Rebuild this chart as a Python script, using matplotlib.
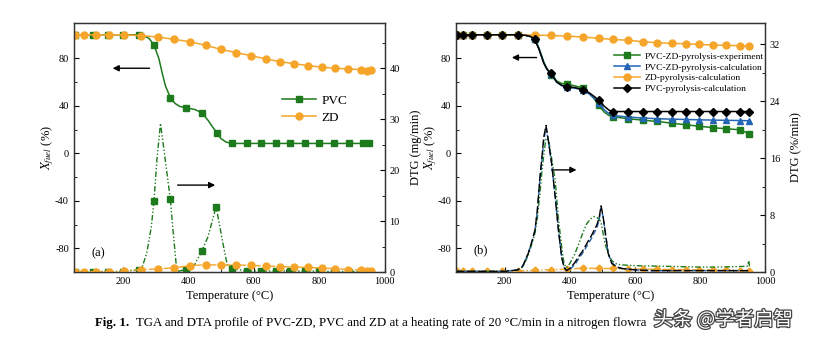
import matplotlib.pyplot as plt
from matplotlib.ticker import MultipleLocator
import matplotlib.patheffects as pe

plt.rcParams['font.family'] = ['Liberation Serif', 'DejaVu Serif']
plt.rcParams['mathtext.fontset'] = 'stix'
plt.rcParams['axes.unicode_minus'] = False

GREEN = '#1d7a1d'
ORANGE = '#f5a52a'
BLUE = '#2565b5'

# ---- panel (a) ----
pvc_tga_T = [55, 110, 155, 200, 248, 265, 280, 295, 310, 320, 330, 345, 360, 375, 394,
             420, 442, 460, 475, 487, 500, 515, 533, 578, 623, 667, 712, 757, 800,
             845, 890, 935, 952]
pvc_tga = [100, 100, 100, 100, 100, 99, 97, 91.3, 80, 68, 57, 47.1, 42, 39.5, 38.4,
           37, 34.2, 28, 22, 17.4, 12.5, 9.6, 8.4, 8.4, 8.4, 8.4, 8.4, 8.4, 8.4,
           8.4, 8.4, 8.4, 8.4]
pvc_tga_marks = [0, 1, 2, 3, 4, 7, 11, 14, 16, 19, 22, 23, 24, 25, 26, 27, 28, 29, 30, 31, 32]

pvc_dtg_T = [55, 110, 155, 200, 249, 256, 273, 287, 295, 304, 315, 327, 345, 355, 365,
             394, 419, 441, 460, 485, 506, 519, 533, 578, 623, 667, 712, 757, 800,
             845, 890, 935, 952]
pvc_dtg = [0.1, 0.1, 0.1, 0.1, 0.5, 0.4, 3.7, 8.9, 13.9, 22, 29.2, 23.3, 14.3, 7, 0.1,
           0.5, 1.4, 4.1, 6.9, 12.8, 5.6, 1.4, 0.7, 0.2, 0.2, 0.2, 0.2, 0.2, 0.2,
           0.15, 0.1, 0.1, 0.1]
pvc_dtg_marks = [0, 1, 2, 3, 4, 8, 12, 15, 17, 19, 22, 23, 24, 25, 26, 27, 28, 29, 30, 31, 32]

zd_T = [55, 80, 118, 159, 204, 255, 308, 357, 406, 453, 500, 546, 592, 638, 681,
        724, 767, 808, 849, 889, 928, 947, 957]
zd_tga = [100, 100, 100, 100, 100, 99.3, 98.1, 96.1, 94.1, 91.1, 87.7, 84.9, 82.4,
          79.6, 77.3, 75.6, 74, 72.6, 71.8, 71.2, 70.6, 69.5, 70.3]
zd_dtg = [0.05, 0.05, 0.1, 0.1, 0.2, 0.5, 0.6, 0.85, 1.25, 1.45, 1.35, 1.4, 1.3,
          1.2, 1.05, 1.0, 0.9, 0.8, 0.65, 0.5, 0.4, 0.3, 0.3]

# ---- panel (b) ----
mix_T = [52, 73, 98, 145, 191, 242, 265, 280, 292, 305, 320, 330, 342, 360, 375, 391,
         415, 440, 460, 475, 489, 505, 520, 534, 580, 626, 669, 713, 757, 798, 839,
         880, 923, 952]
mix_marks = [0, 1, 2, 3, 4, 5, 8, 12, 15, 17, 20, 23, 24, 25, 26, 27, 28, 29, 30, 31, 32, 33]
exp_tga = [100, 100, 100, 100, 100, 100, 99.5, 98.5, 96.5, 89, 77, 71, 66.5, 61, 59,
           58.3, 57, 55, 50.5, 46, 40.5, 35, 32, 30.8, 29.2, 28, 26.9, 25.5, 24.1,
           22.9, 21.7, 20.8, 19.9, 16.5]
calc_tga = [100, 100, 100, 100, 100, 100, 99.5, 98.5, 96.3, 88.5, 76.5, 71, 67, 60,
            57, 56, 55, 53.5, 50, 46.5, 42.5, 37, 33.5, 32, 30.6, 29.8, 29.2, 28.9,
            28.6, 28.3, 28.1, 27.9, 27.7, 27.5]
pvc_calc_tga = [100, 100, 100, 100, 100, 100, 99.5, 98.5, 96.1, 88, 76, 71, 67.5, 60,
                57.5, 56.3, 55.5, 53.8, 51, 48, 44.9, 40, 36.5, 35.3, 35.3, 35.3, 35.3,
                35.3, 35.3, 35.3, 35.3, 35.3, 35.3, 35.3]

zd_calc_T = [52, 73, 98, 145, 191, 242, 292, 342, 391, 440, 489, 534, 580, 626, 669,
             713, 757, 798, 839, 880, 923, 952]
zd_calc_tga = [100, 100, 100, 100, 100, 100, 99.7, 99.4, 98.9, 98.1, 97.0, 96.1, 95.3,
               94.1, 93.3, 92.8, 92.4, 91.9, 91.3, 91.1, 90.8, 90.6]
zd_calc_dtg = [0.1, 0.1, 0.1, 0.1, 0.1, 0.15, 0.25, 0.35, 0.4, 0.55, 0.5, 0.5, 0.45,
               0.4, 0.4, 0.35, 0.35, 0.3, 0.3, 0.25, 0.2, 0.2]

dtg_T = [50, 100, 150, 200, 240, 255, 272, 285, 293, 300, 308, 315, 320, 327, 335,
         344, 355, 365, 375, 382, 390, 400, 415, 426, 440, 452, 465, 475, 483, 490,
         496, 502, 508, 518, 529, 545, 560, 600, 650, 700, 750, 800, 850, 900, 945,
         950, 952]
exp_dtg = [0.1, 0.1, 0.1, 0.1, 0.3, 0.7, 2.3, 4.2, 5.5, 7.5, 11, 14.5, 16.5, 18.8,
           18.5, 16, 12.9, 7.5, 3.5, 1.2, 0.6, 1.2, 2.5, 3.8, 5.5, 6.8, 7.5, 7.8, 7.7,
           7.4, 7.0, 5.5, 4.0, 2.6, 1.6, 1.1, 1.0, 0.9, 0.85, 0.8, 0.75, 0.7, 0.7,
           0.75, 0.8, 1.6, 0.8]
calc_dtg = [0.1, 0.1, 0.1, 0.1, 0.3, 0.8, 2.6, 4.5, 5.9, 8.5, 12.9, 16, 18.5, 20.3,
            18, 15.3, 10.6, 5.9, 2.1, 0.7, 0.2, 0.4, 1.0, 1.8, 2.7, 3.6, 4.6, 5.5,
            6.2, 7.3, 9.0, 7.8, 5.9, 2.6, 1.3, 0.7, 0.5, 0.3, 0.2, 0.2, 0.2, 0.2,
            0.2, 0.2, 0.2, 0.2, 0.2]
pvc_calc_dtg = [0.1, 0.1, 0.1, 0.1, 0.3, 0.8, 2.6, 4.5, 5.9, 8.6, 13.2, 16.5, 19,
                20.6, 18.2, 15.3, 10.6, 5.9, 2.1, 0.7, 0.2, 0.5, 1.3, 2.1, 3.0, 4.0,
                5.0, 5.9, 6.6, 7.6, 9.3, 7.9, 5.9, 2.6, 1.2, 0.7, 0.5, 0.3, 0.2, 0.2,
                0.2, 0.2, 0.2, 0.2, 0.2, 0.2, 0.2]

DASHDOTDOT = (0, (4, 1.5, 1, 1.5, 1, 1.5))

fig = plt.figure(figsize=(8.2, 3.47), dpi=100)


def style_axes(ax, ax2, r_top, r_major):
    ax.set_xlim(50, 1000)
    ax.set_ylim(-100, 110)
    ax.xaxis.set_major_locator(MultipleLocator(200))
    ax.xaxis.set_minor_locator(MultipleLocator(100))
    ax.yaxis.set_major_locator(MultipleLocator(40))
    ax.yaxis.set_minor_locator(MultipleLocator(20))
    ax.tick_params(which='both', direction='in', labelsize=7.5)
    ax.tick_params(which='major', length=3.5)
    ax.tick_params(which='minor', length=2)
    ax.set_xlabel('Temperature (°C)', fontsize=9, labelpad=3)
    ax.set_ylabel('$X_{fuel}$ (%)', fontsize=9, labelpad=-1)
    ax2.set_ylim(0, r_top)
    ax2.yaxis.set_major_locator(MultipleLocator(r_major))
    ax2.yaxis.set_minor_locator(MultipleLocator(r_major / 2))
    ax2.tick_params(which='both', direction='in', labelsize=7.5)
    ax2.tick_params(which='major', length=3.5)
    ax2.tick_params(which='minor', length=2)
    for a in (ax, ax2):
        for s in a.spines.values():
            s.set_linewidth(0.9)
            s.set_color('#333333')


def arrow(ax, x0, x1, y):
    ax.annotate('', xy=(x1, y), xytext=(x0, y), xycoords='axes fraction',
                arrowprops=dict(arrowstyle='-|>', color='black', lw=1.0,
                                mutation_scale=9, shrinkA=0, shrinkB=0))


# panel (a)
axa = fig.add_axes([0.090, 0.216, 0.379, 0.718])
axa2 = axa.twinx()
la, = axa.plot(pvc_tga_T, pvc_tga, color=GREEN, lw=1.1, marker='s', ms=4.5,
               markevery=pvc_tga_marks, label='PVC')
lb, = axa.plot(zd_T, zd_tga, color=ORANGE, lw=1.1, marker='o', ms=5,
               label='ZD')
axa2.plot(pvc_dtg_T, pvc_dtg, color=GREEN, lw=1.0, ls=DASHDOTDOT, marker='s',
          ms=4.5, markevery=pvc_dtg_marks)
axa2.plot(zd_T, zd_dtg, color=ORANGE, lw=1.0, ls='-.', marker='o', ms=5)
style_axes(axa, axa2, 48.9, 10)
axa2.set_ylabel('DTG (mg/min)', fontsize=9, labelpad=7)
axa.legend(handles=[la, lb], loc='upper left', bbox_to_anchor=(0.64, 0.75),
           frameon=False, fontsize=9.5, handlelength=2.6, borderpad=0.2,
           labelspacing=0.35, handletextpad=0.4)
arrow(axa, 0.244, 0.125, 0.818)
arrow(axa, 0.334, 0.455, 0.349)
axa.text(0.057, 0.075, '(a)', transform=axa.transAxes, fontsize=9, va='center')

# panel (b)
axb = fig.add_axes([0.556, 0.216, 0.377, 0.718])
axb2 = axb.twinx()
h1, = axb.plot(mix_T, exp_tga, color=GREEN, lw=1.1, marker='s', ms=4,
               markevery=mix_marks, label='PVC-ZD-pyrolysis-experiment')
h2, = axb.plot(mix_T, calc_tga, color=BLUE, lw=1.1, marker='^', ms=4.5,
               markevery=mix_marks, label='PVC-ZD-pyrolysis-calculation')
h3, = axb.plot(zd_calc_T, zd_calc_tga, color=ORANGE, lw=1.1, marker='o', ms=5,
               label='ZD-pyrolysis-calculation')
h4, = axb.plot(mix_T, pvc_calc_tga, color='black', lw=1.1, marker='D', ms=4,
               markevery=mix_marks, label='PVC-pyrolysis-calculation')
axb2.plot(zd_calc_T, zd_calc_dtg, color=ORANGE, lw=1.0, ls='-.', marker='D', ms=3.5)
axb2.plot(dtg_T, exp_dtg, color=GREEN, lw=1.0, ls=DASHDOTDOT)
axb2.plot(dtg_T, calc_dtg, color=BLUE, lw=1.0, ls=(0, (4, 2)))
axb2.plot(dtg_T, pvc_calc_dtg, color='black', lw=1.0, ls=(0, (6, 2)))
style_axes(axb, axb2, 35, 8)
axb2.set_ylabel('DTG (%/min)', fontsize=9, labelpad=7)
axb.legend(handles=[h1, h2, h3, h4], loc='upper left', bbox_to_anchor=(0.49, 0.91),
           frameon=False, fontsize=6.8, handlelength=2.8, borderpad=0.2,
           labelspacing=0.25, handletextpad=0.4)
arrow(axb, 0.261, 0.181, 0.861)
arrow(axb, 0.310, 0.390, 0.410)
axb.text(0.056, 0.088, '(b)', transform=axb.transAxes, fontsize=9, va='center')

# caption and watermark
fig.text(0.116, 0.069, 'Fig. 1.', fontsize=9.3, fontweight='bold', va='center')
fig.text(0.166, 0.069, 'TGA and DTA profile of PVC-ZD, PVC and ZD at a heating rate of '
         '20 °C/min in a nitrogen flowra', fontsize=9.3, va='center')
fig.text(0.797, 0.078, '头条 @学者启智', fontsize=14, va='center', color='white',
         family=['Noto Sans CJK SC', 'DejaVu Sans'],
         path_effects=[pe.withStroke(linewidth=1.8, foreground='#444444')])

fig.savefig('out.png', dpi=100)
